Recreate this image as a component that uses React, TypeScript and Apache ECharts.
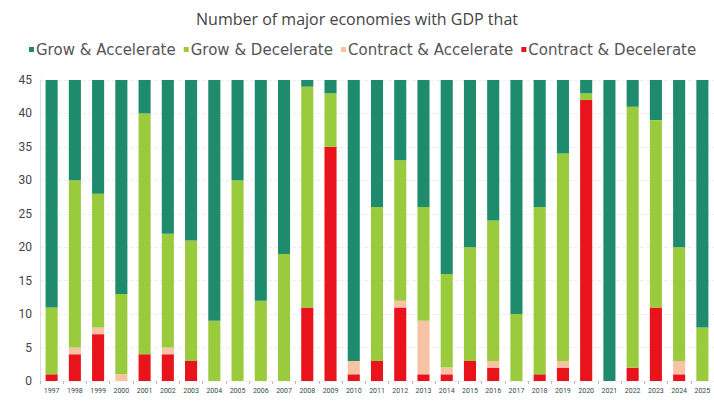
import React, { useEffect, useRef } from "react";
import * as echarts from "echarts";

const years = ["1997","1998","1999","2000","2001","2002","2003","2004","2005","2006","2007","2008","2009","2010","2011","2012","2013","2014","2015","2016","2017","2018","2019","2020","2021","2022","2023","2024","2025"];
const contractDecelerate = [1,4,7,0,4,4,3,0,0,0,0,11,35,1,3,11,1,1,3,2,0,1,2,42,0,2,11,1,0];
const contractAccelerate = [0,1,1,1,0,1,0,0,0,0,0,0,0,2,0,1,8,1,0,1,0,0,1,0,0,0,0,2,0];
const growDecelerate = [10,25,20,12,36,17,18,9,30,12,19,33,8,0,23,21,17,14,17,21,10,25,31,1,0,39,28,17,8];
const growAccelerate = [34,15,17,32,5,23,24,36,15,33,26,1,2,42,19,12,19,29,25,21,35,19,11,2,45,4,6,25,37];
const yTicks = [0, 45, 5];

const colors = {
  ga: "#1e8c6c",
  gd: "#9acb3c",
  ca: "#f6c3a4",
  cd: "#e8131b",
};

export default function App() {
  const ref = useRef<HTMLDivElement>(null);
  useEffect(() => {
    const chart = echarts.init(ref.current!, undefined, { renderer: "svg" });
    const mk = (name: string, data: number[], color: string) => ({
      name,
      type: "bar",
      stack: "total",
      data,
      barWidth: "52%",
      itemStyle: { color },
    });
    chart.setOption({
      animation: false,
      title: {
        text: "Number of major economies with GDP that",
        left: "center",
        top: 6,
        textStyle: { fontFamily: "Open Sans", fontSize: 16, fontWeight: "normal", color: "#444" },
      },
      legend: {
        top: 37,
        left: 24,
        itemWidth: 5,
        itemHeight: 5,
        itemGap: 8,
        icon: "rect",
        data: ["Grow & Accelerate", "Grow & Decelerate", "Contract & Accelerate", "Contract & Decelerate"],
        textStyle: { fontFamily: "DejaVu Sans", fontSize: 15, color: "#555", padding: [0, 0, 0, -3] },
      },
      grid: { left: 40, right: -2, top: 80, bottom: 20, containLabel: false },
      xAxis: {
        type: "category",
        data: years,
        axisLine: { show: false },
        axisTick: { show: true, alignWithLabel: false, length: 3, lineStyle: { color: "#bbb" } },
        axisLabel: { fontFamily: "Roboto", fontSize: 7, color: "#2f4a48", margin: 6, interval: 0 },
      },
      yAxis: {
        type: "value",
        min: yTicks[0],
        max: yTicks[1],
        interval: yTicks[2],
        axisLine: { show: true, lineStyle: { color: "#ddd" } },
        axisTick: { show: false },
        axisLabel: { fontFamily: "Roboto", fontSize: 12, color: "#444", margin: 8 },
        splitLine: { show: true, lineStyle: { color: "#eee", type: "dashed" } },
      },
      series: [
        mk("Contract & Decelerate", contractDecelerate, colors.cd),
        mk("Contract & Accelerate", contractAccelerate, colors.ca),
        mk("Grow & Decelerate", growDecelerate, colors.gd),
        mk("Grow & Accelerate", growAccelerate, colors.ga),
      ],
    });
    return () => chart.dispose();
  }, []);
  return <div ref={ref} style={{ width: 714, height: 401, position: "absolute", left: 0, top: 0 }} />;
}
